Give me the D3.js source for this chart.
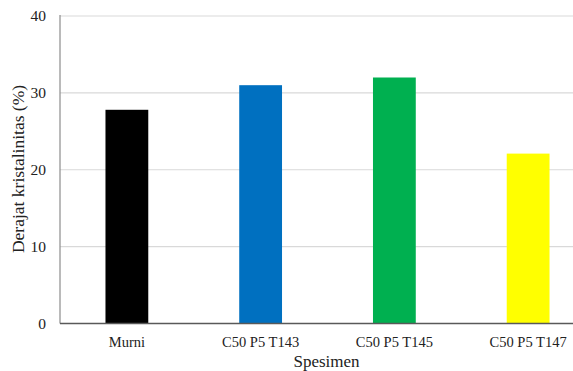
<!DOCTYPE html>
<html><head><meta charset="utf-8">
<script src="https://cdn.jsdelivr.net/npm/d3@7"></script>
<style>body{margin:0;background:#fff}svg{display:block}</style>
</head><body>
<svg id="c" width="573" height="371"></svg>
<script>
const categories = ["Murni", "C50 P5 T143", "C50 P5 T145", "C50 P5 T147"];
const values = [27.8, 31.0, 32.0, 22.1];
const colors = ["#000000", "#0070C0", "#00B050", "#FFFF00"];
const yTicks = [0, 10, 20, 30, 40];

const svg = d3.select("#c");
const pL = 60, pT = 16, pB = 323.5, pR = 573;
const x = d3.scaleBand().domain(categories).range([pL, 595]).paddingInner(0.68).paddingOuter(0.34);
const y = d3.scaleLinear().domain([0, 40]).range([pB, pT]);
const font = "'Liberation Serif', 'Times New Roman', serif";

svg.append("g").selectAll("line").data(yTicks.filter(d => d > 0)).join("line")
  .attr("x1", pL).attr("x2", pR)
  .attr("y1", d => y(d)).attr("y2", d => y(d))
  .attr("stroke", "#d9d9d9").attr("stroke-width", 1.2);

svg.append("g").selectAll("rect").data(values).join("rect")
  .attr("x", (d, i) => x(categories[i]))
  .attr("width", x.bandwidth())
  .attr("y", d => y(d))
  .attr("height", d => pB - y(d))
  .attr("fill", (d, i) => colors[i]);

svg.append("line").attr("x1", pL).attr("x2", pL).attr("y1", pT - 1).attr("y2", pB)
  .attr("stroke", "#8c8c8c").attr("stroke-width", 1.2);
svg.append("line").attr("x1", pL).attr("x2", pR).attr("y1", pB).attr("y2", pB)
  .attr("stroke", "#595959").attr("stroke-width", 1.3);

svg.append("g").selectAll("text").data(yTicks).join("text")
  .attr("x", 46).attr("y", d => y(d)).attr("dy", "0.35em")
  .attr("text-anchor", "end").attr("font-family", font).attr("font-size", 15.5).attr("fill", "#222")
  .text(d => d);

svg.append("g").selectAll("text").data(categories).join("text")
  .attr("x", d => x(d) + x.bandwidth() / 2).attr("y", 346.5)
  .attr("text-anchor", "middle").attr("font-family", font).attr("font-size", 14.5).attr("fill", "#222")
  .text(d => d);

svg.append("text").attr("x", 326.5).attr("y", 366.5).attr("text-anchor", "middle")
  .attr("font-family", font).attr("font-size", 17).attr("fill", "#222").text("Spesimen");

svg.append("text").attr("transform", `translate(24,169) rotate(-90)`)
  .attr("text-anchor", "middle").attr("font-family", font).attr("font-size", 17.5).attr("fill", "#222")
  .text("Derajat kristalinitas (%)");
</script>
</body></html>
